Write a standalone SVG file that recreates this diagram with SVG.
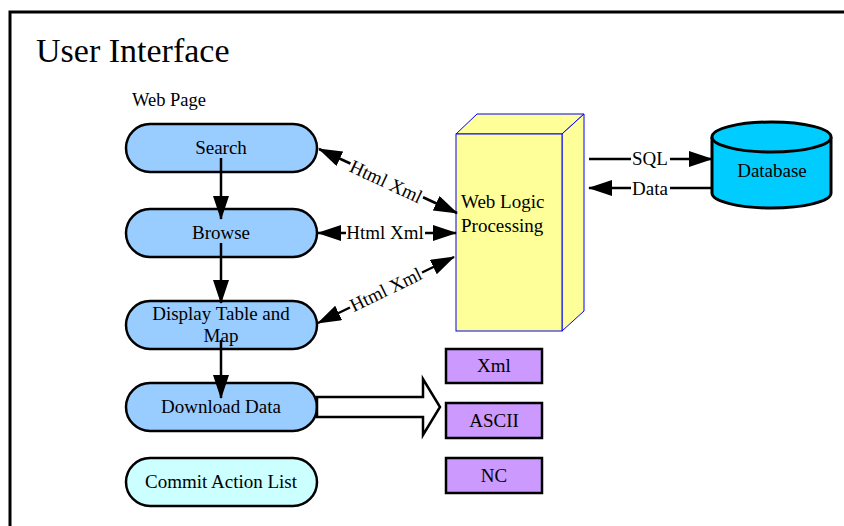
<svg xmlns="http://www.w3.org/2000/svg" width="844" height="526" viewBox="0 0 844 526">
  <style>
    text { font-family: "Liberation Serif", "Times New Roman", serif; font-size: 19px; fill: #000; }
    .c { text-anchor: middle; }
    .pill { stroke: #000; stroke-width: 2.5; }
    .page { fill: #99ccff; }
    .commit { fill: #ccffff; }
    .fmt { fill: #cc99ff; stroke: #000; stroke-width: 2.5; }
    .wire { stroke: #000; stroke-width: 2.5; fill: none; }
    .bg { fill: #fff; }
  </style>
  <defs>
    <marker id="ah" markerUnits="userSpaceOnUse" markerWidth="24" markerHeight="16" viewBox="0 0 24 16" refX="23" refY="8" orient="auto-start-reverse">
      <path d="M0,0 L24,8 L0,16 z" fill="#000"/>
    </marker>
  </defs>

  <rect width="844" height="526" fill="#fff"/>
  <!-- outer frame -->
  <rect x="10" y="12" width="900" height="600" fill="none" stroke="#000" stroke-width="3"/>
  <text x="36" y="62" style="font-size:34px">User Interface</text>
  <text x="132" y="106" style="font-size:18.5px">Web Page</text>

  <g id="search">
    <rect class="pill page" x="126" y="124" width="191" height="48" rx="24"/>
    <text class="c" x="221" y="154">Search</text>
  </g>
  <g id="browse">
    <rect class="pill page" x="126" y="209" width="191" height="48" rx="24"/>
    <text class="c" x="221" y="239">Browse</text>
  </g>
  <g id="display">
    <rect class="pill page" x="126" y="301" width="191" height="48" rx="24"/>
    <text class="c" x="221" y="320">Display Table and</text>
    <text class="c" x="221" y="342">Map</text>
  </g>
  <g id="download">
    <rect class="pill page" x="126" y="383" width="191" height="48" rx="24"/>
    <text class="c" x="221" y="413">Download Data</text>
  </g>
  <g id="commit">
    <rect class="pill commit" x="126" y="458" width="191" height="48" rx="24"/>
    <text class="c" x="221" y="488">Commit Action List</text>
  </g>

  <g id="weblogic">
    <polygon points="456,134 477,114 584,114 562,134" fill="#ffff99" stroke="#0000ff" stroke-width="1"/>
    <polygon points="562,134 584,114 584,311 562,331" fill="#ffff99" stroke="#0000ff" stroke-width="1"/>
    <rect x="456" y="134" width="106" height="197" fill="#ffff99" stroke="#0000ff" stroke-width="1"/>
    <text x="461" y="208">Web Logic</text>
    <text x="461" y="232">Processing</text>
  </g>

  <g id="database">
    <path d="M712,137 L712,193 A59.5,15 0 0 0 831,193 L831,137" fill="#00ccff" stroke="#000" stroke-width="3"/>
    <ellipse cx="771.5" cy="137" rx="59.5" ry="15" fill="#00ccff" stroke="#000" stroke-width="3"/>
    <text class="c" x="772" y="177">Database</text>
  </g>

  <g id="fmt-xml">
    <rect class="fmt" x="446" y="349" width="96" height="34"/>
    <text class="c" x="494" y="372">Xml</text>
  </g>
  <g id="fmt-ascii">
    <rect class="fmt" x="446" y="403" width="96" height="35"/>
    <text class="c" x="494" y="427">ASCII</text>
  </g>
  <g id="fmt-nc">
    <rect class="fmt" x="446" y="458" width="96" height="35"/>
    <text class="c" x="494" y="482">NC</text>
  </g>

  <g id="connectors">
    <!-- page flow -->
    <line class="wire" x1="221" y1="158" x2="221" y2="219" marker-end="url(#ah)"/>
    <line class="wire" x1="221" y1="243" x2="221" y2="303" marker-end="url(#ah)"/>
    <line class="wire" x1="221" y1="340" x2="221" y2="398" marker-end="url(#ah)"/>

    <!-- page to logic -->
    <line class="wire" x1="319" y1="149" x2="457" y2="213" marker-start="url(#ah)" marker-end="url(#ah)"/>
    <g transform="translate(386,182) rotate(24.9)">
      <rect class="bg" x="-40" y="-9" width="80" height="18"/>
      <text class="c" x="0" y="6">Html Xml</text>
    </g>
    <line class="wire" x1="318" y1="233" x2="456" y2="233" marker-start="url(#ah)" marker-end="url(#ah)"/>
    <rect class="bg" x="346" y="224" width="79" height="18"/>
    <text class="c" x="385" y="239">Html Xml</text>
    <line class="wire" x1="318" y1="323" x2="454" y2="257" marker-start="url(#ah)" marker-end="url(#ah)"/>
    <g transform="translate(386,290) rotate(-25.9)">
      <rect class="bg" x="-40" y="-9" width="80" height="18"/>
      <text class="c" x="0" y="6">Html Xml</text>
    </g>

    <!-- logic to database -->
    <line class="wire" x1="589" y1="159" x2="712" y2="159" marker-end="url(#ah)"/>
    <rect class="bg" x="631" y="151" width="39" height="16"/>
    <text class="c" x="650" y="165">SQL</text>
    <line class="wire" x1="712" y1="188" x2="589" y2="188" marker-end="url(#ah)"/>
    <rect class="bg" x="631" y="180" width="39" height="16"/>
    <text class="c" x="650" y="195">Data</text>

    <!-- download output -->
    <polygon points="317,397 423,397 423,379 440,407 423,435 423,417 317,417" fill="#fff" stroke="#000" stroke-width="2.5" stroke-linejoin="miter"/>
  </g>
</svg>
